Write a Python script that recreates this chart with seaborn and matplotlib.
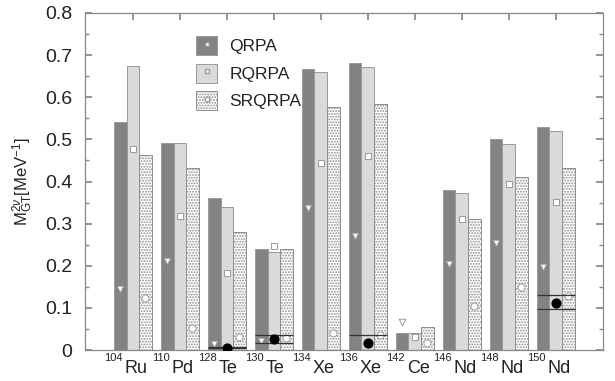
import numpy as np
import pandas as pd
import matplotlib
matplotlib.use("Agg")
import matplotlib.pyplot as plt
from matplotlib.patches import Patch
from matplotlib.lines import Line2D
from matplotlib.ticker import MultipleLocator
import seaborn as sns

# Two-neutrino double-beta decay Gamow-Teller matrix elements
mass = [104, 110, 128, 130, 134, 136, 142, 146, 148, 150]
element = ["Ru", "Pd", "Te", "Te", "Xe", "Xe", "Ce", "Nd", "Nd", "Nd"]

qrpa = [0.542, 0.492, 0.36, 0.24, 0.667, 0.682, 0.041, 0.38, 0.50, 0.53]
rqrpa = [0.673, 0.492, 0.34, 0.233, 0.66, 0.672, 0.040, 0.373, 0.49, 0.52]
srqrpa = [0.463, 0.433, 0.281, 0.24, 0.578, 0.584, 0.054, 0.31, 0.411, 0.432]

# second set of results shown as markers inside the bars
qrpa_mark = [0.145, 0.211, 0.014, 0.022, 0.338, 0.27, 0.067, 0.205, 0.255, 0.198]
rqrpa_mark = [0.477, 0.319, 0.183, 0.248, 0.445, 0.46, 0.030, 0.31, 0.395, 0.352]
srqrpa_mark = [0.124, 0.052, 0.030, 0.028, 0.040, 0.036, 0.016, 0.105, 0.150, 0.128]

# experimental values and their ranges
exp_index = [2, 3, 5, 9]
exp_value = [0.005, 0.027, 0.017, 0.112]
exp_low = [0.004, 0.017, 0.0, 0.097]
exp_high = [0.007, 0.037, 0.036, 0.130]

methods = ["QRPA", "RQRPA", "SRQRPA"]

sns.set_theme(style="white")
plt.rcParams["font.family"] = ["Liberation Sans", "DejaVu Sans"]
plt.rcParams["mathtext.fontset"] = "custom"
plt.rcParams["mathtext.rm"] = "Liberation Sans"
plt.rcParams["mathtext.it"] = "Liberation Sans:italic"
plt.rcParams["hatch.linewidth"] = 0.9

labels = [f"{m}{e}" for m, e in zip(mass, element)]
df = pd.DataFrame({
    "nucleus": labels * 3,
    "method": np.repeat(methods, len(labels)),
    "value": qrpa + rqrpa + srqrpa,
})

dark = "#838383"
light = "#dadada"
edge = "#9a9a9a"
dots = "#8e8e8e"
text_col = "#222222"

fig = plt.figure(figsize=(6.15, 3.81), dpi=100)
ax = fig.add_axes([0.138, 0.081, 0.842, 0.885])

sns.barplot(data=df, x="nucleus", y="value", hue="method", order=labels,
            hue_order=methods, palette=[dark, light, "white"], saturation=1,
            width=0.8, edgecolor=edge, linewidth=0.7, legend=False, ax=ax)

for bar in ax.containers[2]:
    bar.set_hatch("......")
    bar.set_edgecolor(dots)

w = 0.8 / 3
x = np.arange(len(labels))
mk = dict(facecolor="white", edgecolor="#9a9a9a", linewidths=0.7, zorder=4)
ax.scatter(x - w, qrpa_mark, marker="v", s=22, **mk)
ax.scatter(x, rqrpa_mark, marker="s", s=20, **mk)
ax.scatter(x + w, srqrpa_mark, marker="o", s=26, **mk)

for i, v, lo, hi in zip(exp_index, exp_value, exp_low, exp_high):
    ax.hlines([lo, hi], i - 0.4, i + 0.4, color="#333333", lw=0.9, zorder=5)
    ax.scatter([i], [v], marker="o", s=40, color="black", zorder=6)

ax.set_xlim(-1.02, 10.0)
ax.set_ylim(0, 0.8)
ax.yaxis.set_major_locator(MultipleLocator(0.1))
ax.yaxis.set_minor_locator(MultipleLocator(0.05))
ax.set_yticks(np.arange(0, 0.81, 0.1))
ax.set_yticklabels(["0"] + [f"{t:.1f}" for t in np.arange(0.1, 0.81, 0.1)])
ax.tick_params(axis="y", which="both", direction="in", left=True, right=True,
               labelsize=14, colors=text_col, pad=9)
ax.tick_params(axis="y", which="major", length=5, color="#888888")
ax.tick_params(axis="y", which="minor", length=3, color="#888888")
ax.tick_params(axis="x", direction="in", top=True, bottom=False, length=5,
               color="#888888", labelbottom=False)
ax.set_xlabel("")
ax.set_ylabel(r"$\mathrm{M}_{\mathrm{GT}}^{2\nu}$[MeV$^{-1}$]", fontsize=12,
              color=text_col, labelpad=7)
for s in ax.spines.values():
    s.set_color("#888888")
    s.set_linewidth(0.9)

# nuclide labels: mass number as a raised prefix, element symbol on the baseline
xform = ax.get_xaxis_transform()
for i, (m, e) in enumerate(zip(mass, element)):
    ax.annotate(e, xy=(i, 0), xycoords=xform, xytext=(-8, -23),
                textcoords="offset pixels", ha="left", va="baseline",
                fontsize=13, color=text_col, annotation_clip=False)
    ax.annotate(str(m), xy=(i, 0), xycoords=xform, xytext=(-10, -3),
                textcoords="offset pixels", ha="right", va="top",
                fontsize=8, color=text_col, annotation_clip=False)

handles = [
    (Patch(facecolor=dark, edgecolor=edge, lw=0.7),
     Line2D([], [], ls="none", marker="o", ms=3, mfc="white", mec="#9a9a9a")),
    (Patch(facecolor=light, edgecolor=edge, lw=0.7),
     Line2D([], [], ls="none", marker="s", ms=3.5, mfc="white", mec="#9a9a9a")),
    (Patch(facecolor="white", edgecolor=dots, hatch="......", lw=0.7),
     Line2D([], [], ls="none", marker="o", ms=3.5, mfc="white", mec="#9a9a9a")),
]
ax.legend(handles, methods, loc="upper left", bbox_to_anchor=(0.185, 0.978),
          frameon=False, fontsize=12.5, handlelength=1.2, handleheight=1.3,
          handletextpad=0.7, labelspacing=0.5, labelcolor=text_col)

fig.savefig("out.png", dpi=100)
